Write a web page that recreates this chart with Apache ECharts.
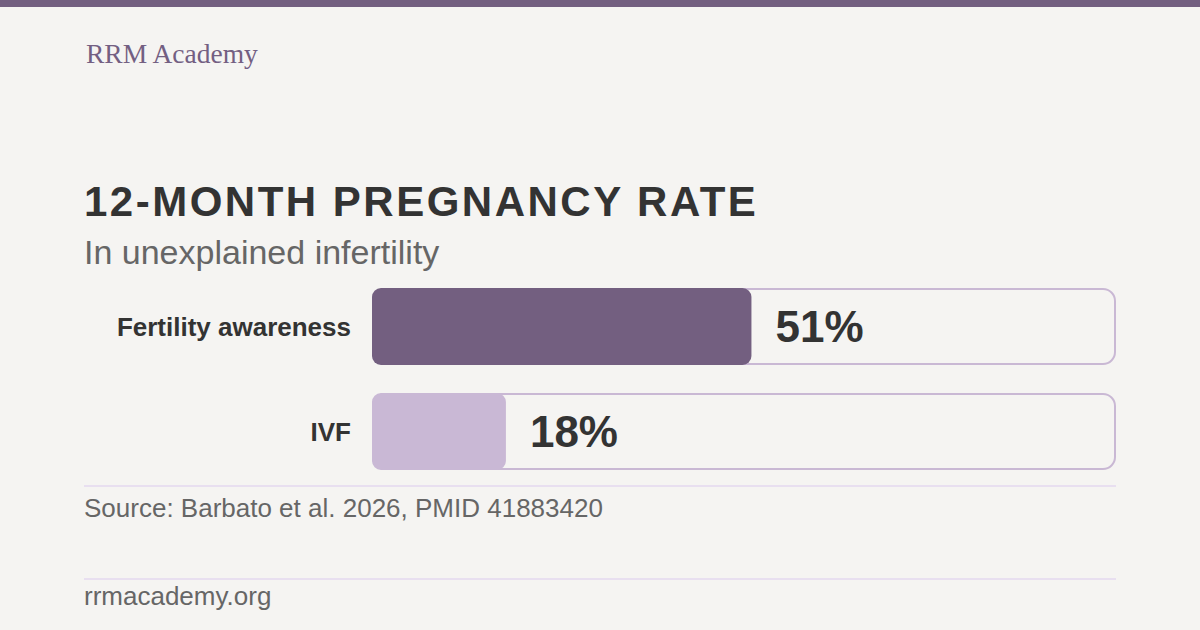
<!DOCTYPE html>
<html>
<head>
<meta charset="utf-8">
<title>12-Month Pregnancy Rate</title>
<script src="https://cdn.jsdelivr.net/npm/echarts@6/dist/echarts.min.js"></script>
<style>
  html, body { margin: 0; padding: 0; background: #f5f4f2; }
  #container { width: 1200px; height: 630px; }
</style>
</head>
<body>
<div id="container"></div>
<script>
// chart data
var categories = ['Fertility awareness', 'IVF'];
var rates = [51, 18];
var trackMax = [100, 100];

var titleText = '12-MONTH PREGNANCY RATE';
var subtitleText = 'In unexplained infertility';
var sourceText = 'Source: Barbato et al. 2026, PMID 41883420';
var brandText = 'RRM Academy';
var siteText = 'rrmacademy.org';

var barColors = ['#735f80', '#c9b8d5'];
var sans = '"Liberation Sans", Arial, sans-serif';

var myChart = echarts.init(document.getElementById('container'), null, { renderer: 'svg' });

var option = {
	backgroundColor: '#f5f4f2',
	animation: false,
	grid: { left: 372, right: 84, top: 274, height: 210, containLabel: false },
	xAxis: { type: 'value', min: 0, max: 100, show: false },
	yAxis: {
		type: 'category',
		data: categories,
		inverse: true,
		axisLine: { show: false },
		axisTick: { show: false },
		axisLabel: { margin: 21, fontSize: 26, fontWeight: 'bold', color: '#333', fontFamily: sans }
	},
	series: [{
		// outlined track behind each bar
		type: 'bar',
		data: trackMax,
		barWidth: 77,
		silent: true,
		itemStyle: { color: 'rgba(0,0,0,0)', borderColor: '#c9b8d4', borderWidth: 2, borderRadius: 12 }
	}, {
		type: 'bar',
		data: rates.map(function (v, i) {
			return { value: v, itemStyle: { color: barColors[i] } };
		}),
		barWidth: 77,
		barGap: '-100%',
		itemStyle: { borderRadius: 9 },
		label: {
			show: true,
			position: 'right',
			distance: 24,
			formatter: '{c}%',
			fontSize: 44,
			fontWeight: 'bold',
			color: '#333',
			fontFamily: sans
		}
	}],
	graphic: [
		{ type: 'rect', shape: { x: 0, y: 0, width: 1200, height: 7 }, style: { fill: '#735f80' } },
		{ type: 'text', style: { text: brandText, x: 86, y: 53, font: '27.5px "Liberation Serif", Georgia, serif', fill: '#735f82', textAlign: 'left', textVerticalAlign: 'middle' } },
		{ type: 'text', style: { text: titleText, x: 84, y: 201, font: 'bold 42px ' + sans, fill: '#333', textAlign: 'left', textVerticalAlign: 'middle' } },
		{ type: 'text', style: { text: subtitleText, x: 84, y: 252, font: '34px ' + sans, fill: '#666', textAlign: 'left', textVerticalAlign: 'middle' } },
		{ type: 'line', shape: { x1: 84, y1: 486, x2: 1116, y2: 486 }, style: { stroke: '#e8dff0', lineWidth: 2 } },
		{ type: 'text', style: { text: sourceText, x: 84, y: 508, font: '26px ' + sans, fill: '#666', textAlign: 'left', textVerticalAlign: 'middle' } },
		{ type: 'line', shape: { x1: 84, y1: 579, x2: 1116, y2: 579 }, style: { stroke: '#e8dff0', lineWidth: 2 } },
		{ type: 'text', style: { text: siteText, x: 84, y: 596, font: '26px ' + sans, fill: '#666', textAlign: 'left', textVerticalAlign: 'middle' } }
	]
};
myChart.setOption(option);

// title letter spacing (svg renderer)
var texts = document.querySelectorAll('#container svg text');
for (var i = 0; i < texts.length; i++) {
	if (texts[i].textContent === titleText) texts[i].setAttribute('letter-spacing', '2.5');
}
</script>
</body>
</html>
